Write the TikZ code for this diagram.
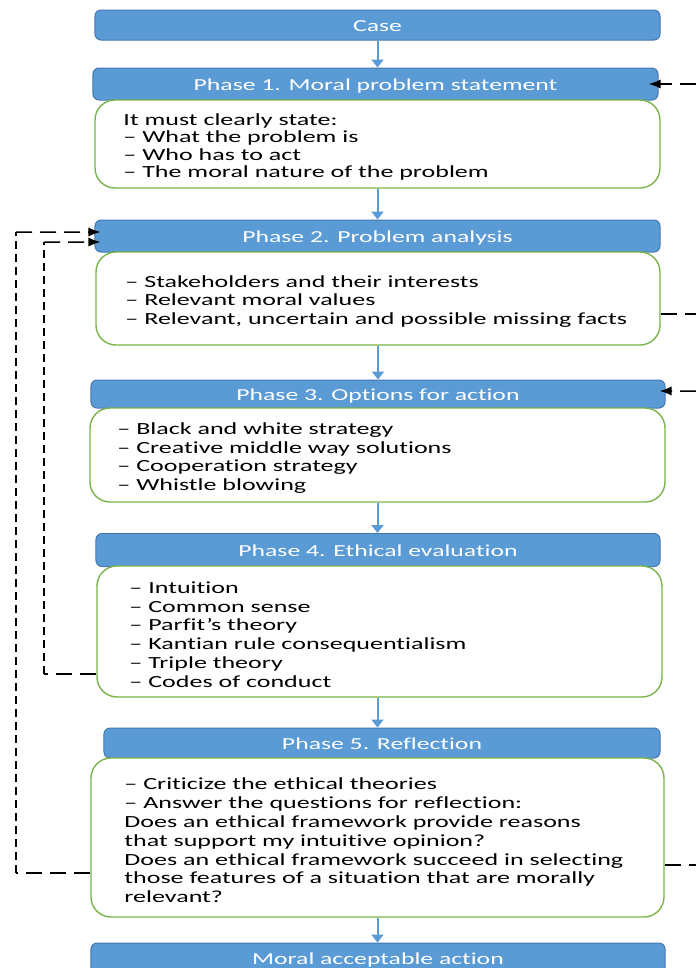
\documentclass[tikz,border=0pt]{standalone}
\usepackage{fontspec}
\setmainfont{Carlito}[FakeStretch=1.53, Ligatures={NoCommon}]
\usetikzlibrary{arrows.meta}
\definecolor{hblue}{HTML}{5B9BD5}
\definecolor{hborder}{HTML}{4677B0}
\definecolor{bgreen}{HTML}{7AB54C}
\begin{document}
\begin{tikzpicture}[x=1bp,y=-1bp,
  hdr/.style={draw=hborder, fill=hblue, line width=1bp, rounded corners=6bp, text=white,
    font=\fontsize{16.8bp}{19bp}\selectfont, inner sep=0pt, text height=13bp, text depth=0bp},
  bodybox/.style={draw=bgreen, fill=white, line width=1.4bp, rounded corners=20bp, inner sep=0pt},
  btext/.style={anchor=west, align=left, inner sep=0pt, yshift=-3bp},
  bfont/.style={font=\fontsize{17bp}{18.8bp}\selectfont},
  flow/.style={draw=hblue, line width=2bp, -{Triangle[width=12bp,length=8bp]}},
  fbh/.style={draw=black, line width=1.5bp, dash pattern=on 16bp off 8bp},
  fbv/.style={draw=black, line width=1.5bp, dash pattern=on 8bp off 5bp},
  tip/.style={-{Latex[width=9bp,length=12bp]}}
]
\useasboundingbox (0,0) rectangle (696,968);
\clip (0,0) rectangle (696,968);
\fill[white] (0,0) rectangle (696,968);

% headers
\node[hdr, minimum width=565bp, minimum height=30bp] (case) at (377.5,25) {Case};
\node[hdr, minimum width=565bp, minimum height=32bp] (h1) at (375.5,84) {Phase 1. Moral problem statement};
\node[hdr, minimum width=565bp, minimum height=32bp] (h2) at (377.5,236) {Phase 2. Problem analysis};
\node[hdr, minimum width=574bp, minimum height=28bp] (h3) at (378,394) {Phase 3. Options for action};
\node[hdr, minimum width=564bp, minimum height=33bp] (h4) at (378,550) {Phase 4. Ethical evaluation};
\node[hdr, minimum width=556bp, minimum height=30bp] (h5) at (382,743) {Phase 5. Reflection};
\node[hdr, minimum width=574bp, minimum height=36bp, text height=7bp] (fin) at (378,961) {Moral acceptable action};

% bodies
\node[bodybox, minimum width=565bp, minimum height=88bp] (b1) at (377.5,144) {};
\node[btext, font=\fontsize{17bp}{17.4bp}\selectfont] (t1) at ([xshift=29bp]b1.west) {It must clearly state:\\
– What the problem is\\
– Who has to act\\
– The moral nature of the problem};

\node[bodybox, minimum width=564bp, minimum height=93bp] (b2) at (378,298.5) {};
\node[btext, bfont] (t2) at ([xshift=30bp]b2.west) {– Stakeholders and their interests\\
– Relevant moral values\\
– Relevant, uncertain and possible missing facts};

\node[bodybox, minimum width=575bp, minimum height=94bp] (b3) at (377.5,455) {};
\node[btext, bfont] (t3) at ([xshift=28bp]b3.west) {– Black and white strategy\\
– Creative middle way solutions\\
– Cooperation strategy\\
– Whistle blowing};

\node[bodybox, minimum width=565bp, minimum height=131bp] (b4) at (379.5,631.5) {};
\node[btext, bfont] (t4) at ([xshift=33bp]b4.west) {– Intuition\\
– Common sense\\
– Parfit’s theory\\
– Kantian rule consequentialism\\
– Triple theory\\
– Codes of conduct};

\node[bodybox, minimum width=573bp, minimum height=159bp] (b5) at (377.5,837.5) {};
\node[btext, bfont] (t5) at ([xshift=34bp]b5.west) {– Criticize the ethical theories\\
– Answer the questions for reflection:\\
Does an ethical framework provide reasons\\
that support my intuitive opinion?\\
Does an ethical framework succeed in selecting\\
those features of a situation that are morally\\
relevant?};

% flow arrows
\draw[flow] (case.south) -- (case.south |- h1.north);
\draw[flow] (b1.south) -- (b1.south |- h2.north);
\draw[flow] (b2.south) -- (b2.south |- h3.north);
\draw[flow] (b3.south) -- (b3.south |- h4.north);
\draw[flow] (b4.south -| b3.south) -- (b3.south |- h5.north);
\draw[flow] (b5.south -| b3.south) -- (b3.south |- fin.north);

% feedback loops (left)
\coordinate (L1) at (16,873);
\coordinate (L1t) at (16,232);
\coordinate (L2) at (44,674);
\coordinate (L2t) at (44,242);
\draw[fbh] (b5.west |- L1) -- (L1);
\draw[fbv] (L1) -- (L1t);
\draw[fbh, tip] (L1t) -- ([xshift=6bp,yshift=4bp]h2.west);
\draw[fbh] (b4.west |- L2) -- (L2);
\draw[fbv] (L2) -- (L2t);
\draw[fbh, tip] (L2t) -- ([xshift=6bp,yshift=-6bp]h2.west);

% feedback loops (right, running off the edge)
\coordinate (R1) at (696,84);
\coordinate (R2) at (696,314);
\coordinate (R3) at (696,391);
\coordinate (R4) at (696,865);
\draw[fbh, tip] (R1) -- ([xshift=-10bp]h1.east);
\draw[fbh] (b2.east |- R2) -- (R2);
\draw[fbh, tip] (R3) -- ([xshift=-6bp,yshift=3bp]h3.east);
\draw[fbh] (b5.east |- R4) -- (R4);
\end{tikzpicture}
\end{document}
